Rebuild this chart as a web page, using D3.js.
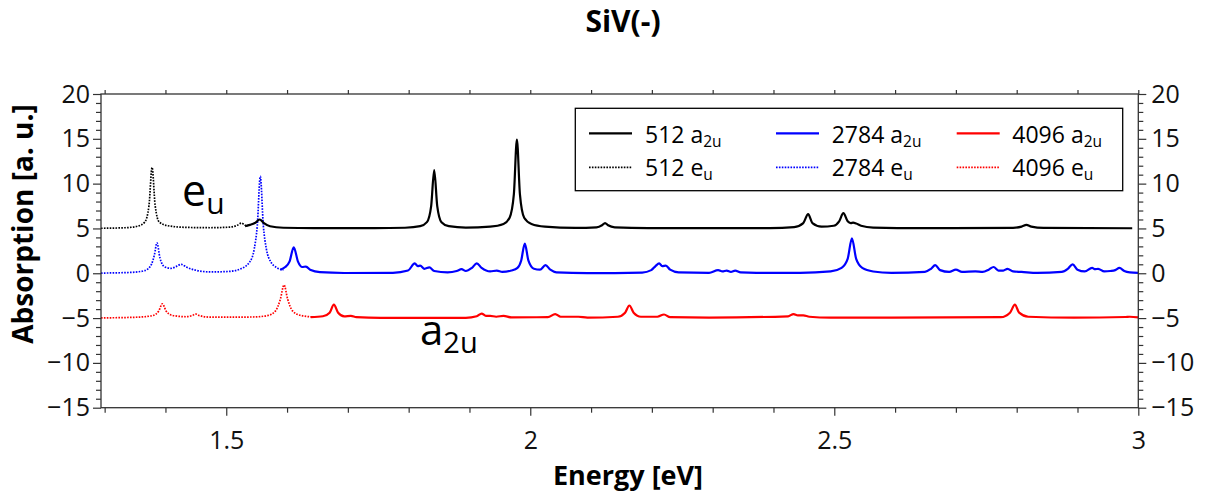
<!DOCTYPE html>
<html>
<head>
<meta charset="utf-8">
<script src="https://cdn.jsdelivr.net/npm/d3@7/dist/d3.min.js"></script>
<style>
  html, body { margin: 0; padding: 0; background: #fff; }
  svg { display: block; font-family: "Open Sans", "Noto Sans", sans-serif; }
</style>
</head>
<body>
<svg id="chart" width="1208" height="498"></svg>
<script>
// ---------------- data ----------------
const title = "SiV(-)";
const xLabel = "Energy [eV]";
const yLabel = "Absorption [a. u.]";
const xMajorTicks = [1.5, 2, 2.5, 3];
const yMajorTicks = [-15, -10, -5, 0, 5, 10, 15, 20];
const seriesNames = ["512", "2784", "4096"];
const seriesColors = ["#000000", "#0000ff", "#ff0000"];

// e_u spectra (dotted), offset baselines 5 / 0 / -5
const black_eu = [[1.294,5.02],[1.334,5.08],[1.354,5.25],[1.366,5.7],[1.373,7.6],[1.378,11.8],[1.383,7.6],[1.39,5.7],[1.404,5.3],[1.434,5.12],[1.474,5.08],[1.506,5.15],[1.518,5.35],[1.525,5.6],[1.531,5.35],[1.536,5.3]];
const blue_eu = [[1.294,0.02],[1.344,0.1],[1.366,0.3],[1.377,1.0],[1.382,2.1],[1.386,3.4],[1.391,1.7],[1.399,0.7],[1.409,0.55],[1.419,0.8],[1.426,1.0],[1.434,0.7],[1.449,0.35],[1.474,0.15],[1.504,0.2],[1.524,0.5],[1.539,1.3],[1.546,2.7],[1.551,5.3],[1.556,10.8],[1.561,5.3],[1.566,2.7],[1.573,1.3],[1.584,0.6],[1.594,0.35]];
const red_eu = [[1.294,-4.98],[1.354,-4.9],[1.379,-4.72],[1.389,-4.2],[1.395,-3.4],[1.401,-4.2],[1.411,-4.7],[1.434,-4.85],[1.444,-4.72],[1.45,-4.55],[1.456,-4.72],[1.474,-4.9],[1.544,-4.88],[1.569,-4.7],[1.581,-4.2],[1.589,-2.9],[1.595,-1.3],[1.601,-2.9],[1.609,-4.2],[1.621,-4.68],[1.643,-4.88]];

// a_2u spectra (solid)
const black_a2u = [[1.531,5.25],[1.539,5.4],[1.547,5.6],[1.555,6.0],[1.562,5.6],[1.572,5.25],[1.594,5.08],[1.644,5.03],[1.744,5.03],[1.794,5.08],[1.819,5.25],[1.83,5.7],[1.837,7.5],[1.842,11.5],[1.847,7.5],[1.854,5.7],[1.866,5.25],[1.894,5.1],[1.934,5.2],[1.956,5.5],[1.966,6.2],[1.973,8.8],[1.978,14.9],[1.983,8.8],[1.99,6.2],[2.002,5.5],[2.024,5.2],[2.074,5.06],[2.109,5.12],[2.118,5.35],[2.123,5.6],[2.128,5.35],[2.139,5.12],[2.194,5.03],[2.394,5.04],[2.434,5.15],[2.449,5.6],[2.457,6.6],[2.464,5.6],[2.479,5.2],[2.499,5.3],[2.508,5.8],[2.515,6.7],[2.522,5.8],[2.527,5.6],[2.531,5.65],[2.536,5.55],[2.544,5.3],[2.564,5.1],[2.644,5.03],[2.794,5.07],[2.808,5.2],[2.816,5.4],[2.824,5.2],[2.844,5.06],[2.99,5.02]];
const blue_a2u = [[1.589,0.4],[1.597,0.7],[1.604,1.3],[1.611,2.9],[1.618,1.3],[1.625,0.7],[1.631,0.75],[1.639,0.35],[1.654,0.12],[1.694,0.03],[1.774,0.05],[1.799,0.3],[1.81,1.1],[1.815,0.8],[1.819,0.85],[1.826,0.5],[1.834,0.65],[1.842,0.25],[1.864,0.1],[1.879,0.25],[1.887,0.45],[1.894,0.25],[1.904,0.6],[1.912,1.1],[1.92,0.6],[1.934,0.2],[1.945,0.3],[1.954,0.15],[1.969,0.3],[1.979,0.6],[1.985,1.4],[1.991,3.3],[1.997,1.4],[2.006,0.5],[2.016,0.4],[2.025,0.9],[2.033,0.4],[2.043,0.1],[2.094,0.02],[2.184,0.08],[2.199,0.35],[2.206,0.8],[2.212,1.1],[2.217,0.8],[2.223,0.85],[2.23,0.4],[2.244,0.1],[2.294,0.05],[2.309,0.35],[2.316,0.2],[2.323,0.3],[2.33,0.15],[2.337,0.3],[2.346,0.1],[2.372,0.05],[2.444,0.05],[2.494,0.2],[2.512,0.6],[2.522,1.6],[2.529,3.9],[2.536,1.6],[2.546,0.6],[2.564,0.2],[2.594,0.05],[2.649,0.15],[2.659,0.5],[2.666,0.9],[2.674,0.35],[2.689,0.15],[2.7,0.4],[2.71,0.15],[2.732,0.2],[2.744,0.15],[2.754,0.4],[2.762,0.7],[2.77,0.3],[2.778,0.3],[2.785,0.5],[2.794,0.2],[2.808,0.15],[2.834,0.05],[2.874,0.15],[2.884,0.5],[2.892,1.0],[2.9,0.4],[2.912,0.2],[2.924,0.6],[2.929,0.45],[2.934,0.5],[2.944,0.2],[2.954,0.25],[2.962,0.35],[2.969,0.6],[2.977,0.25],[2.986,0.1],[3.0,0.05]];
const red_a2u = [[1.639,-4.9],[1.659,-4.8],[1.67,-4.4],[1.677,-3.5],[1.684,-4.4],[1.694,-4.8],[1.705,-4.75],[1.714,-4.9],[1.754,-4.97],[1.894,-4.97],[1.912,-4.8],[1.92,-4.5],[1.927,-4.75],[1.934,-4.75],[1.944,-4.85],[1.956,-4.75],[1.969,-4.92],[2.029,-4.9],[2.041,-4.55],[2.05,-4.85],[2.079,-4.85],[2.094,-4.95],[2.144,-4.85],[2.156,-4.4],[2.163,-3.6],[2.17,-4.4],[2.182,-4.85],[2.209,-4.85],[2.22,-4.6],[2.23,-4.9],[2.294,-4.95],[2.424,-4.8],[2.433,-4.55],[2.44,-4.7],[2.449,-4.7],[2.459,-4.85],[2.494,-4.95],[2.594,-4.96],[2.774,-4.9],[2.789,-4.4],[2.797,-3.5],[2.804,-4.4],[2.819,-4.85],[2.894,-4.95],[2.979,-4.88],[2.986,-4.85],[3.0,-4.92]];

const euSeries = [black_eu, blue_eu, red_eu];
const a2uSeries = [black_a2u, blue_a2u, red_a2u];

// ---------------- drawing ----------------
const svg = d3.select("#chart");
const L = 101, R = 1138.3, T = 94, B = 407.7;
const x = d3.scaleLinear().domain([1.294, 3.0]).range([L, R]);
const y = d3.scaleLinear().domain([-15, 20]).range([B, T]);
const axisColor = "#333";
const fontTick = 25;

const line = d3.line().x(d => x(d[0])).y(d => y(d[1])).curve(d3.curveMonotoneX);

// curves
const curves = svg.append("g").attr("fill", "none");
euSeries.forEach((s, i) => {
  curves.append("path").attr("d", line(s))
    .attr("stroke", seriesColors[i]).attr("stroke-width", 1.7)
    .attr("stroke-dasharray", "1.6,1.3");
});
a2uSeries.forEach((s, i) => {
  curves.append("path").attr("d", line(s))
    .attr("stroke", seriesColors[i]).attr("stroke-width", 2.2)
    .attr("stroke-linejoin", "round");
});

// axes
const xMinor = d3.range(13, 31).map(v => v / 10).filter(v => !xMajorTicks.some(m => Math.abs(m - v) < 1e-9));
const yMinor = d3.range(-15, 21).filter(v => v % 5 !== 0);
const xAll = d3.range(13, 31).map(v => v / 10);

function styleAxis(g) {
  g.selectAll(".domain").remove();
  g.selectAll("line").attr("stroke", axisColor).attr("stroke-width", 1.2);
  g.selectAll("text").attr("fill", "#111").style("font-size", fontTick + "px")
    .style("font-family", '"Open Sans", "Noto Sans", sans-serif');
}

// bottom
svg.append("g").attr("transform", `translate(0,${B})`)
  .call(d3.axisBottom(x).tickValues(xMajorTicks).tickSize(8).tickPadding(16).tickFormat(d3.format("")))
  .call(styleAxis);
svg.append("g").attr("transform", `translate(0,${B})`)
  .call(d3.axisBottom(x).tickValues(xMinor).tickSize(5).tickFormat(""))
  .call(styleAxis);
// top
svg.append("g").attr("transform", `translate(0,${T})`)
  .call(d3.axisTop(x).tickValues(xAll).tickSize(4).tickFormat(""))
  .call(styleAxis);

const yFmt = d => (d < 0 ? "\u2212" + Math.abs(d) : "" + d);
// left
svg.append("g").attr("transform", `translate(${L},0)`)
  .call(d3.axisLeft(y).tickValues(yMajorTicks).tickSize(8).tickPadding(3).tickFormat(yFmt))
  .call(styleAxis);
svg.append("g").attr("transform", `translate(${L},0)`)
  .call(d3.axisLeft(y).tickValues(yMinor).tickSize(5).tickFormat(""))
  .call(styleAxis);
// right
svg.append("g").attr("transform", `translate(${R},0)`)
  .call(d3.axisRight(y).tickValues(yMajorTicks).tickSize(8).tickPadding(5).tickFormat(yFmt))
  .call(styleAxis);
svg.append("g").attr("transform", `translate(${R},0)`)
  .call(d3.axisRight(y).tickValues(yMinor).tickSize(5).tickFormat(""))
  .call(styleAxis);

// frame
svg.append("rect").attr("x", L).attr("y", T).attr("width", R - L).attr("height", B - T)
  .attr("fill", "none").attr("stroke", axisColor).attr("stroke-width", 1.3);

// title & labels
svg.append("text").attr("x", 623).attr("y", 32).attr("text-anchor", "middle")
  .style("font-size", "30px").style("font-weight", "bold").text(title);
svg.append("text").attr("x", 628).attr("y", 485).attr("text-anchor", "middle")
  .style("font-size", "27px").style("font-weight", "bold").text(xLabel);
svg.append("text").attr("transform", "translate(33,224) rotate(-90)").attr("text-anchor", "middle")
  .style("font-size", "28px").style("font-weight", "bold").text(yLabel);

// annotations
function subText(g, px, py, main, sub, size, subSize, dy) {
  const t = g.append("text").attr("x", px).attr("y", py).style("font-size", size + "px").attr("fill", "#000");
  t.append("tspan").text(main);
  t.append("tspan").attr("dy", dy).style("font-size", subSize + "px").text(sub);
  return t;
}
subText(svg, 182, 206, "e", "u", 43, 30, 8);
subText(svg, 420, 345, "a", "2u", 42, 29, 8);

// legend
const lg = svg.append("g");
lg.append("rect").attr("x", 575.3).attr("y", 108.3).attr("width", 1122.7 - 575.3).attr("height", 190.7 - 108.3)
  .attr("fill", "#fff").attr("stroke", "#000").attr("stroke-width", 1.3);
const colLineX = [589, 776, 956.7];
const colTextX = [645, 831.7, 1012.3];
const rowY = [133.3, 167.3];
seriesNames.forEach((name, i) => {
  // solid a2u
  lg.append("line").attr("x1", colLineX[i]).attr("x2", colLineX[i] + 43).attr("y1", rowY[0]).attr("y2", rowY[0])
    .attr("stroke", seriesColors[i]).attr("stroke-width", 2.2);
  subText(lg, colTextX[i], rowY[0] + 9.5, name + " a", "2u", 23, 15.5, 4);
  // dotted eu
  lg.append("line").attr("x1", colLineX[i]).attr("x2", colLineX[i] + 43).attr("y1", rowY[1]).attr("y2", rowY[1])
    .attr("stroke", seriesColors[i]).attr("stroke-width", 1.7).attr("stroke-dasharray", "1.6,1.3");
  subText(lg, colTextX[i], rowY[1] + 9, name + " e", "u", 23, 15.5, 4);
});
</script>
</body>
</html>
